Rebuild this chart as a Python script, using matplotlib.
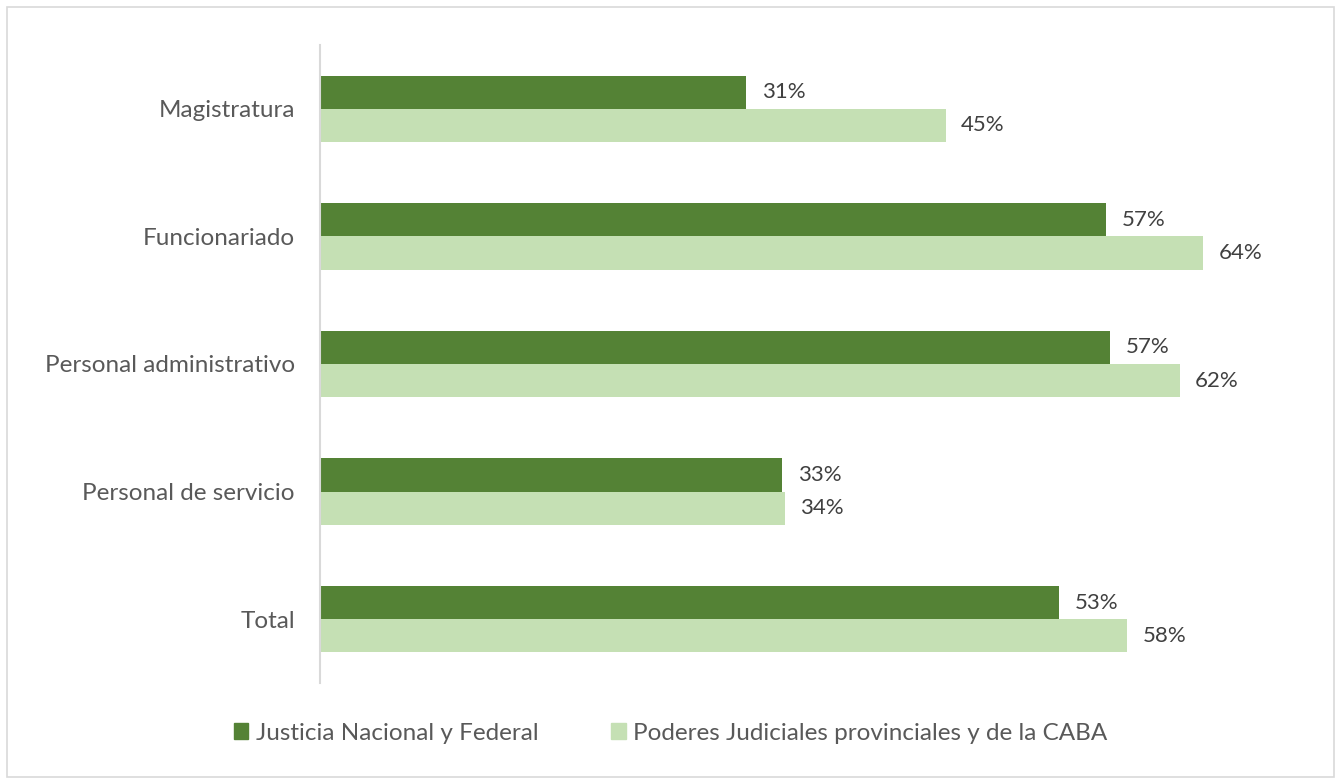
import matplotlib.pyplot as plt
from matplotlib.patches import Rectangle, Patch
import numpy as np

plt.rcParams['font.family'] = ['Lato', 'DejaVu Sans']

# Data (share)
categories = ["Magistratura", "Funcionariado", "Personal administrativo",
              "Personal de servicio", "Total"]
nacional = [30.8, 56.8, 57.1, 33.4, 53.4]
provincial = [45.2, 63.8, 62.1, 33.6, 58.3]
series_names = ["Justicia Nacional y Federal",
                "Poderes Judiciales provinciales y de la CABA"]

dark = "#548235"
light = "#C5E0B4"

fig = plt.figure(figsize=(13.41, 7.84), dpi=100)
ax = fig.add_axes([320 / 1341, 1 - 683 / 784, (1289 - 320) / 1341, (683 - 45) / 784])

y = np.arange(len(categories))
h = 0.26
b1 = ax.barh(y - h / 2, nacional, height=h, color=dark)
b2 = ax.barh(y + h / 2, provincial, height=h, color=light)

for bars, vals in ((b1, nacional), (b2, provincial)):
    for bar, v in zip(bars, vals):
        ax.annotate(f"{v:.0f}%", (bar.get_width(), bar.get_y() + bar.get_height() / 2),
                    xytext=(11, 0), textcoords="offset points",
                    va="center", ha="left", fontsize=16, color="#404040")

ax.set_xlim(0, 70)
ax.set_ylim(len(categories) - 0.5, -0.5)
ax.set_yticks(y)
ax.set_yticklabels(categories, fontsize=17.5, color="#595959")
ax.tick_params(axis="y", length=0, pad=18)
ax.set_xticks([])
for s in ("top", "right", "bottom"):
    ax.spines[s].set_visible(False)
ax.spines["left"].set_color("#d9d9d9")
ax.spines["left"].set_linewidth(1.5)

handles = [Patch(color=dark), Patch(color=light)]
fig.legend(handles, series_names, loc="center", bbox_to_anchor=(0.5, 1 - 733 / 784),
           ncol=2, frameon=False, fontsize=17.5, labelcolor="#595959",
           handlelength=0.6, handleheight=0.6, handletextpad=0.3, columnspacing=3.0)

fig.patches.append(Rectangle((7 / 1341, 7 / 784), 1 - 14 / 1341, 1 - 14 / 784,
                             transform=fig.transFigure, fill=False,
                             edgecolor="#d9d9d9", linewidth=1.2))

fig.savefig("out.png", dpi=100)
